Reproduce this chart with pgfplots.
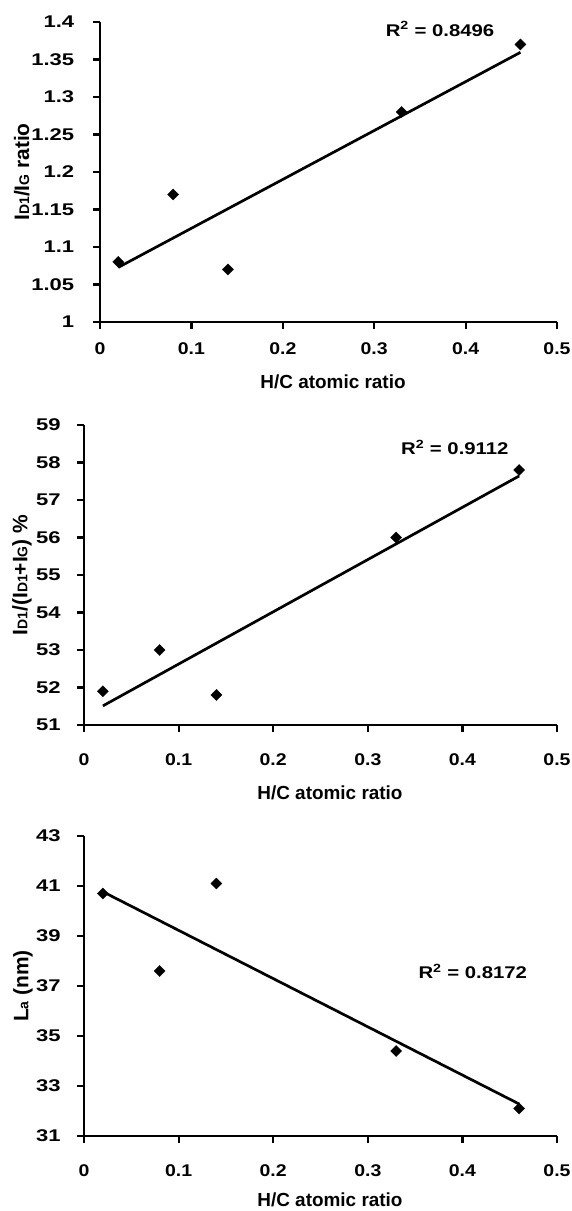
\documentclass[border=0pt]{standalone}
\usepackage{fontspec}
\setmainfont{Liberation Sans}
\usepackage{pgfplots}
\pgfplotsset{compat=1.18}
\newcommand{\sub}[1]{{\fontsize{14}{14}\selectfont #1}}
\tikzset{r2/.style={font=\bfseries\fontsize{17}{17}\selectfont, xscale=1.2, anchor=base}}
\pgfplotsset{
  panel/.style={
    scale only axis,
    axis lines=left,
    axis line style={-, line width=2.6bp},
    tick style={line width=2.2bp, black},
    tick align=outside,
    major tick length=7bp,
    xmin=0, xmax=0.5,
    xtick={0,0.1,...,0.5},
    clip=false,
    /pgf/number format/assume math mode=true,
    xticklabel style={font=\bfseries\fontsize{17}{17}\selectfont, xscale=1.15},
    yticklabel style={font=\bfseries\fontsize{17}{17}\selectfont, xscale=1.3},
    xlabel style={font=\bfseries\fontsize{19}{19}\selectfont, anchor=center, inner sep=1bp},
    ylabel style={font=\bfseries\fontsize{21}{21}\selectfont, anchor=center},
    xlabel={H/C atomic ratio},
    xtick pos=bottom, ytick pos=left,
  },
  pts/.style={only marks, mark=square*, mark size=3.9bp, mark options={rotate=45}, black},
  fit/.style={no marks, black, line width=2.7bp},
}
\begin{document}
\begin{tikzpicture}[x=1bp,y=1bp]
\useasboundingbox (0,0) rectangle (572,1211);
% Panel 1
\begin{axis}[panel, at={(100bp,889bp)}, anchor=south west,
  width=457bp, height=300bp,
  ymin=1, ymax=1.4, ytick={1,1.05,...,1.4},
  yticklabel style={/pgf/number format/fixed, /pgf/number format/precision=2, xshift=-11bp},
  xticklabel style={yshift=-10bp},
  ylabel={I\sub{D1}/I\sub{G} ratio},
  xlabel style={at={(axis description cs:0.51,-0.20)}},
  ylabel style={at={(axis description cs:-0.171,0.5)}}]
\addplot[pts] coordinates {(0.02,1.08) (0.08,1.17) (0.14,1.07) (0.33,1.28) (0.46,1.37)};
\addplot[fit] coordinates {(0.02,1.0728) (0.46,1.3595)};
\node[r2] at (axis cs:0.372,1.381) {R\textsuperscript{2} = 0.8496};
\end{axis}
% Panel 2
\begin{axis}[panel, at={(84bp,486bp)}, anchor=south west,
  width=473bp, height=300bp,
  ymin=51, ymax=59, ytick={51,52,...,59},
  yticklabel style={xshift=-9bp},
  xticklabel style={yshift=-18bp},
  ylabel={I\sub{D1}/(I\sub{D1}+I\sub{G}) \%},
  xlabel style={at={(axis description cs:0.52,-0.227)}},
  ylabel style={at={(axis description cs:-0.131,0.5)}}]
\addplot[pts] coordinates {(0.02,51.9) (0.08,53.0) (0.14,51.8) (0.33,56.0) (0.46,57.8)};
\addplot[fit] coordinates {(0.02,51.51) (0.46,57.64)};
\node[r2] at (axis cs:0.392,58.2) {R\textsuperscript{2} = 0.9112};
\end{axis}
% Panel 3
\begin{axis}[panel, at={(84bp,75bp)}, anchor=south west,
  width=473bp, height=300bp,
  ymin=31, ymax=43, ytick={31,33,...,43},
  yticklabel style={xshift=-9bp},
  xticklabel style={yshift=-18bp},
  ylabel={L\sub{a} (nm)},
  xlabel style={at={(axis description cs:0.52,-0.214)}},
  ylabel style={at={(axis description cs:-0.129,0.5)}}]
\addplot[pts] coordinates {(0.02,40.7) (0.08,37.6) (0.14,41.1) (0.33,34.4) (0.46,32.1)};
\addplot[fit] coordinates {(0.02,40.77) (0.46,32.28)};
\node[r2] at (axis cs:0.411,37.28) {R\textsuperscript{2} = 0.8172};
\end{axis}
\end{tikzpicture}
\end{document}
